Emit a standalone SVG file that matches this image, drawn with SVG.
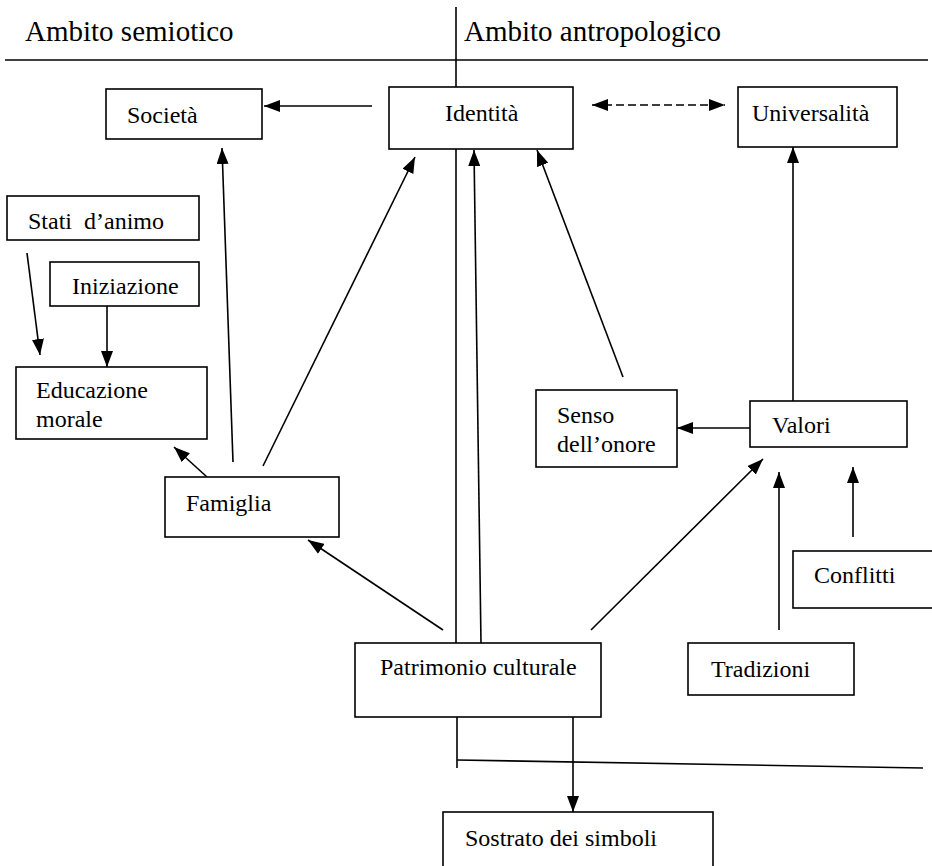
<svg xmlns="http://www.w3.org/2000/svg" width="932" height="866" viewBox="0 0 932 866">
<style>
  .box { fill: #fff; stroke: #000; stroke-width: 1.6; }
  .t { font-family: 'Liberation Serif', 'Times New Roman', 'DejaVu Serif', serif; font-size: 24px; fill: #000; }
  .h { font-family: 'Liberation Serif', 'Times New Roman', 'DejaVu Serif', serif; font-size: 29px; fill: #000; }
  .c { fill: none; stroke: #000; stroke-width: 1.6; }
  .a { marker-end: url(#ah); }
  .d { stroke-dasharray: 8 4; marker-start: url(#ah); marker-end: url(#ah); }
</style>
<defs>
  <marker id="ah" viewBox="0 0 16 12" refX="16" refY="6" markerWidth="16" markerHeight="12" markerUnits="userSpaceOnUse" orient="auto-start-reverse">
    <path d="M0,0 L16,6 L0,12 z" fill="#000"/>
  </marker>
</defs>
<rect width="932" height="866" fill="#fff"/>

<g id="header">
  <text class="h" x="25" y="41" font-family="Liberation Serif, serif">Ambito semiotico</text>
  <text class="h" x="464" y="41" font-family="Liberation Serif, serif">Ambito antropologico</text>
</g>

<g id="connectors">
  <path class="c" d="M5,60 L928,60" stroke="#333"/>
  <path class="c" d="M456,7 L456,87"/>
  <path class="c" d="M456,149 L456,643"/>
  <path class="c" d="M457,717 L457,768"/>
  <path class="c" d="M457,760 L923,768"/>
  <path class="c a" d="M372,106 L264,106"/>
  <path class="c d" d="M592,105 L725,105"/>
  <path class="c a" d="M793,401 L793,147"/>
  <path class="c a" d="M27,253 L40,355"/>
  <path class="c a" d="M107,298 L107,367"/>
  <path class="c a" d="M207,477 L174,447"/>
  <path class="c a" d="M233,462 L222,148"/>
  <path class="c a" d="M263,466 L415,157"/>
  <path class="c a" d="M481,643 L474,150"/>
  <path class="c a" d="M443,630 L308,540"/>
  <path class="c a" d="M591,630 L763,459"/>
  <path class="c a" d="M573,717 L573,812"/>
  <path class="c a" d="M623,377 L537,150"/>
  <path class="c a" d="M750,428 L677,428"/>
  <path class="c a" d="M779,630 L779,472"/>
  <path class="c a" d="M853,537 L853,467"/>
</g>

<g id="societa">
  <rect class="box" x="106" y="89" width="156" height="50"/>
  <text class="t" x="127" y="123">Società</text>
</g>
<g id="identita">
  <rect class="box" x="389" y="87" width="184" height="62"/>
  <text class="t" x="445" y="121">Identità</text>
</g>
<g id="universalita">
  <rect class="box" x="738" y="87" width="159" height="60"/>
  <text class="t" x="752" y="121">Universalità</text>
</g>
<g id="stati">
  <rect class="box" x="7" y="196" width="192" height="44"/>
  <text class="t" x="28" y="229" xml:space="preserve">Stati  d’animo</text>
</g>
<g id="iniziazione">
  <rect class="box" x="50" y="262" width="149" height="44"/>
  <text class="t" x="72" y="294">Iniziazione</text>
</g>
<g id="educazione">
  <rect class="box" x="16" y="367" width="191" height="72"/>
  <text class="t" x="36" y="398">Educazione</text>
  <text class="t" x="36" y="427">morale</text>
</g>
<g id="famiglia">
  <rect class="box" x="165" y="477" width="174" height="60"/>
  <text class="t" x="186" y="511">Famiglia</text>
</g>
<g id="senso">
  <rect class="box" x="536" y="390" width="141" height="77"/>
  <text class="t" x="557" y="423">Senso</text>
  <text class="t" x="557" y="452">dell’onore</text>
</g>
<g id="valori">
  <rect class="box" x="750" y="401" width="157" height="46"/>
  <text class="t" x="772" y="433">Valori</text>
</g>
<g id="conflitti">
  <rect class="box" x="793" y="551" width="145" height="57"/>
  <text class="t" x="814" y="583">Conflitti</text>
</g>
<g id="patrimonio">
  <rect class="box" x="355" y="643" width="246" height="74"/>
  <text class="t" x="380" y="675">Patrimonio culturale</text>
</g>
<g id="tradizioni">
  <rect class="box" x="688" y="643" width="166" height="52"/>
  <text class="t" x="711" y="677">Tradizioni</text>
</g>
<g id="sostrato">
  <rect class="box" x="443" y="812" width="270" height="70"/>
  <text class="t" x="465" y="846">Sostrato dei simboli</text>
</g>
</svg>
